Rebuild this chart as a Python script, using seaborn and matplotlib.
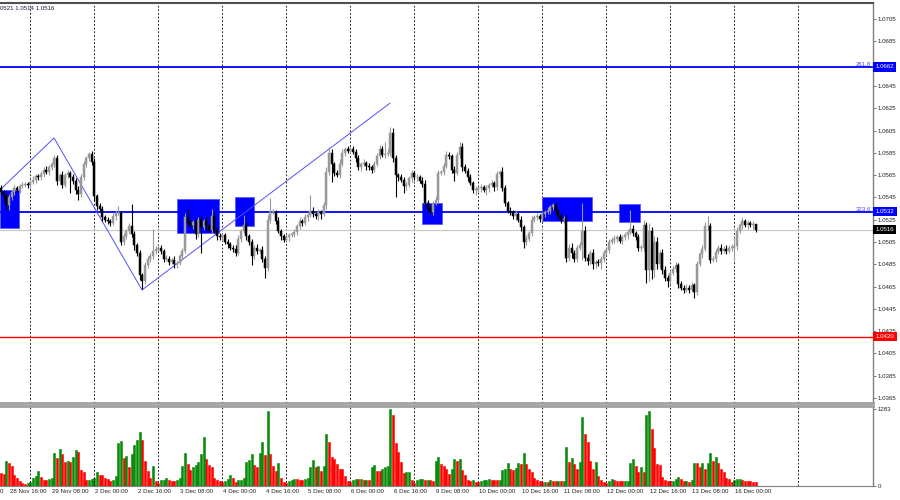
import numpy as np
import pandas as pd
import seaborn as sns
import matplotlib.pyplot as plt
from matplotlib.patches import Rectangle

# EURUSD H1, 28 Nov 13:00 -> 16 Dec 08:00 (weekends skipped)
# prices as pips above 1.0000, one value per hourly bar
first_open = 553
close_pips = [
    550, 546, 538, 545, 550, 553, 552, 555, 556, 557, 556,
    559, 561, 564, 563, 566, 570, 568, 572, 575, 580,
    560, 565, 556, 565, 567, 563, 560, 552, 548, 563,
    575, 580, 584, 577, 546, 537, 535, 527, 525, 524,
    522, 528, 531, 531, 505, 510, 515, 519, 512, 502,
    495, 475, 470, 484, 490, 492, 497, 499, 500, 497,
    490, 490, 487, 489, 485, 486, 492, 497, 527, 522,
    520, 523, 512, 525, 518, 524, 519, 516, 528, 516,
    510, 509, 511, 505, 503, 500, 499, 495, 508, 515,
    520, 510, 505, 492, 500, 497, 498, 490, 482, 525,
    532, 532, 524, 515, 510, 507, 509, 511, 512, 514,
    519, 524, 522, 527, 529, 533, 530, 528, 532, 530,
    538, 568, 585, 575, 567, 565, 575, 585, 588, 587,
    588, 586, 580, 572, 575, 576, 573, 572, 570, 575,
    582, 588, 583, 584, 585, 603, 580, 565, 563, 561,
    555, 556, 562, 567, 563, 563, 560, 557, 540, 535,
    532, 540, 543, 567, 568, 573, 583, 582, 570, 567,
    583, 590, 572, 569, 563, 558, 552, 552, 553, 554,
    552, 553, 556, 558, 554, 566, 568, 553, 540, 533,
    532, 528, 530, 525, 518, 505, 508, 513, 525, 527,
    528, 526, 530, 532, 533, 536, 538, 533, 528, 525,
    526, 491, 500, 495, 490, 500, 502, 515, 491, 488,
    495, 485, 487, 486, 490, 495, 498, 505, 507, 508,
    509, 506, 509, 511, 514, 517, 513, 509, 500, 500,
    520, 480, 515, 480, 505, 485, 495, 480, 473, 470,
    477, 481, 484, 467, 464, 462, 464, 462, 466, 460,
    485, 494, 499, 519, 519, 489, 490, 496, 500, 497,
    499, 497, 500, 500, 501, 515, 520, 524, 520, 522,
    520, 521, 516,
]
# wick lengths above / below the body, pips
wick_up = [
    3, 2, 2, 3, 2, 3, 2, 2, 3, 2, 2,
    2, 3, 2, 2, 3, 2, 3, 2, 2, 3,
    3, 2, 4, 2, 3, 2, 3, 2, 3, 3,
    3, 2, 2, 3, 3, 2, 3, 2, 2, 2,
    2, 3, 2, 6, 2, 3, 2, 3, 20, 3,
    2, 3, 2, 3, 2, 3, 20, 2, 3, 2,
    2, 3, 2, 2, 3, 2, 2, 3, 4, 8,
    3, 2, 3, 2, 3, 2, 3, 2, 7, 3,
    2, 3, 2, 2, 3, 2, 2, 3, 3, 2,
    9, 3, 2, 3, 2, 3, 2, 3, 2, 4,
    12, 3, 2, 3, 2, 2, 3, 2, 2, 3,
    2, 3, 2, 3, 2, 14, 3, 2, 3, 2,
    3, 4, 5, 3, 2, 3, 4, 3, 2, 3,
    2, 3, 2, 3, 2, 3, 2, 3, 2, 3,
    3, 4, 3, 11, 3, 5, 4, 3, 2, 3,
    2, 3, 2, 3, 2, 3, 2, 3, 4, 3,
    3, 2, 3, 3, 2, 3, 4, 3, 2, 3,
    3, 5, 4, 3, 2, 3, 2, 3, 2, 3,
    2, 3, 2, 3, 2, 3, 2, 4, 3, 2,
    3, 2, 3, 2, 3, 2, 3, 2, 3, 2,
    3, 2, 3, 2, 3, 2, 2, 3, 2, 3,
    2, 4, 3, 4, 3, 2, 3, 25, 4, 3,
    3, 4, 2, 3, 2, 3, 2, 3, 2, 3,
    2, 3, 2, 3, 2, 17, 3, 2, 3, 2,
    5, 3, 7, 3, 5, 4, 3, 4, 3, 2,
    3, 2, 3, 2, 3, 2, 3, 2, 3, 2,
    3, 2, 3, 4, 9, 3, 2, 3, 2, 3,
    2, 3, 2, 3, 8, 3, 2, 3, 2, 3,
    2, 3, 0,
]
wick_dn = [
    2, 3, 4, 4, 2, 3, 2, 3, 2, 2, 3,
    3, 2, 3, 2, 2, 3, 2, 3, 2, 3,
    4, 3, 3, 2, 3, 14, 3, 4, 5, 3,
    2, 3, 2, 3, 4, 3, 2, 3, 2, 3,
    3, 2, 3, 2, 3, 3, 2, 3, 3, 4,
    3, 4, 7, 3, 2, 3, 2, 3, 2, 3,
    3, 2, 3, 2, 3, 3, 2, 3, 2, 3,
    2, 3, 4, 3, 23, 2, 3, 2, 3, 3,
    3, 2, 3, 2, 3, 2, 3, 3, 2, 3,
    2, 3, 3, 8, 2, 3, 2, 3, 9, 3,
    3, 2, 3, 2, 3, 2, 2, 3, 2, 3,
    3, 2, 3, 2, 3, 2, 3, 2, 3, 4,
    2, 3, 3, 16, 3, 2, 3, 2, 3, 2,
    3, 2, 3, 2, 3, 2, 3, 2, 3, 2,
    2, 3, 2, 3, 2, 3, 3, 20, 3, 2,
    6, 3, 2, 3, 2, 3, 2, 3, 3, 2,
    2, 3, 2, 3, 2, 3, 2, 3, 3, 7,
    2, 3, 3, 2, 3, 2, 3, 5, 2, 3,
    2, 5, 3, 2, 3, 2, 3, 2, 3, 2,
    3, 2, 3, 2, 3, 5, 3, 2, 3, 2,
    2, 3, 2, 3, 2, 3, 2, 3, 2, 3,
    3, 4, 3, 4, 3, 3, 2, 13, 3, 4,
    3, 4, 3, 3, 5, 3, 2, 3, 2, 3,
    3, 2, 3, 2, 3, 2, 3, 2, 3, 3,
    3, 12, 10, 8, 6, 4, 3, 4, 3, 5,
    3, 2, 3, 3, 2, 3, 2, 3, 2, 5,
    3, 2, 3, 2, 3, 3, 2, 3, 2, 3,
    2, 3, 2, 3, 12, 3, 2, 3, 2, 3,
    2, 3, 2,
]
volume = [
    215, 205, 420, 380, 340, 190, 130, 80, 45, 35, 55,
    70, 130, 170, 255, 150, 105, 100, 120, 125, 550,
    465, 620, 525, 405, 410, 395, 480, 600, 565, 265,
    235, 95, 105, 120, 130, 235, 185, 175, 130, 115,
    85, 105, 165, 715, 745, 460, 505, 310, 525, 675,
    770, 895, 760, 420, 255, 140, 330, 85, 45, 95,
    105, 140, 95, 85, 80, 105, 125, 330, 555, 365,
    265, 320, 355, 405, 525, 815, 445, 355, 310, 130,
    100, 75, 60, 85, 115, 175, 130, 70, 105, 108,
    130, 405, 435, 535, 355, 310, 545, 725, 520, 1245,
    535, 340, 255, 375, 130, 60, 55, 85, 105, 120,
    118, 100, 98, 120, 125, 310, 435, 310, 325, 255,
    325, 860, 740, 490, 450, 365, 280, 275, 170, 75,
    70, 100, 120, 115, 118, 105, 107, 95, 320, 350,
    255, 250, 280, 320, 340, 1283, 1180, 715, 565, 395,
    210, 225, 228, 105, 55, 95, 115, 117, 95, 100,
    95, 85, 410, 480, 365, 340, 280, 195, 290, 450,
    420, 450, 265, 185, 95, 75, 105, 70, 62, 85,
    95, 105, 118, 105, 100, 98, 100, 270, 280, 390,
    280, 265, 300, 375, 370, 545, 365, 280, 240, 140,
    95, 85, 62, 73, 68, 105, 85, 75, 85, 80,
    90, 650, 405, 465, 365, 280, 405, 1155, 860, 740,
    420, 280, 395, 170, 105, 70, 55, 85, 112, 95,
    85, 80, 75, 85, 90, 385, 450, 340, 240, 320,
    240, 1180, 1255, 955, 635, 365, 355, 150, 95, 85,
    75, 85, 112, 150, 112, 75, 85, 73, 105, 385,
    380, 310, 385, 280, 385, 550, 410, 480, 375, 280,
    225, 130, 112, 73, 100, 112, 118, 95, 85, 80,
    78, 70, 62,
]

time_labels = ['28 Nov 16:00', '29 Nov 08:00', '2 Dec 00:00', '2 Dec 16:00',
               '3 Dec 08:00', '4 Dec 00:00', '4 Dec 16:00', '5 Dec 08:00', '6 Dec 00:00',
               '6 Dec 16:00', '9 Dec 08:00', '10 Dec 00:00', '10 Dec 16:00', '11 Dec 08:00',
               '12 Dec 00:00', '12 Dec 16:00', '13 Dec 08:00', '16 Dec 00:00']
label_hours = list(range(-8, 265, 16))   # bar index, 0 = 29 Nov 00:00
day_hours = list(range(0, 289, 24))

price_ticks = [1.0365 + 0.002 * k for k in range(18)]
fib_levels = [(1.0662, '261.8'), (1.0532, '323.6')]
support = 1.0420
bid = 1.0516

# blue zones: (from bar, to bar, low, high)
zones = [(-11.4, -4.2, 1.05175, 1.05516),
         (55.0, 70.8, 1.05130, 1.05435),
         (76.8, 83.9, 1.05190, 1.05450),
         (146.9, 154.4, 1.05210, 1.05400),
         (191.9, 210.6, 1.05240, 1.05450),
         (220.7, 228.6, 1.05230, 1.05390)]
zigzag_bar = [-11.4, 8.9, 41.9, 134.9]
zigzag_price = [1.05516, 1.05983, 1.04619, 1.06296]

bars = pd.DataFrame({'t': np.arange(len(close_pips)) - 11,
                     'close': 1 + np.array(close_pips) / 1e4})
bars['open'] = bars['close'].shift(1).fillna(1 + first_open / 1e4)
bars['high'] = bars[['open', 'close']].max(axis=1) + np.array(wick_up) / 1e4
bars['low'] = bars[['open', 'close']].min(axis=1) - np.array(wick_dn) / 1e4
bars['volume'] = volume
bars['dir'] = np.where(bars['volume'].diff() > 0, 'up', 'down')

sns.set_style('white')
plt.rcParams['font.family'] = ['Liberation Sans', 'DejaVu Sans']
FS = 4.4

fig = plt.figure(figsize=(9, 5), dpi=100)
ax = fig.add_axes([0, 97 / 500, 873 / 900, 400 / 500])
axv = fig.add_axes([0, 14 / 500, 873 / 900, 80 / 500])
xlim = (-11.36, 316.0)

# zones and lines
for t0, t1, lo, hi in zones:
    ax.add_patch(Rectangle((t0, lo), t1 - t0, hi - lo, fc='#0000ff', ec='#5a5aff', lw=0.6, zorder=2))
for lvl, txt in fib_levels:
    ax.axhline(lvl, color='#0000ff', lw=1.3, zorder=2.5)
    ax.text(0.998, lvl + 0.00003, txt, transform=ax.get_yaxis_transform(), ha='right', va='bottom',
            fontsize=FS, color='#4a4aff')
ax.axhline(support, color='#ff0000', lw=1.0, zorder=2.5)
ax.axhline(bid, color='#c8c8c8', lw=0.8, zorder=1.5)
ax.plot(zigzag_bar, zigzag_price, color='#5050ff', lw=0.7, zorder=2.6)

# candles
bull = bars['close'] >= bars['open']
for mask, col in [(bull, '#999999'), (~bull, '#000000')]:
    d = bars[mask]
    ax.vlines(d['t'], d['low'], d['high'], color=col, lw=0.8, zorder=3)
    ax.bar(d['t'], (d['close'] - d['open']).abs().clip(lower=0.00004),
           bottom=d[['open', 'close']].min(axis=1), width=0.72, color=col,
           edgecolor=col, lw=0.35, zorder=3)

# volumes
sns.barplot(data=bars, x='t', y='volume', hue='dir', palette={'up': '#078a07', 'down': '#ff0000'},
            native_scale=True, width=0.72, dodge=False, errorbar=None, legend=False,
            saturation=1, ax=axv)
for p in axv.patches:
    p.set_edgecolor(p.get_facecolor())
    p.set_linewidth(0.4)

for a in (ax, axv):
    for h in day_hours:
        a.axvline(h, color='black', lw=0.6, ls=(0, (2.2, 2.2)), zorder=1)
    a.set_xlabel('')
    a.set_ylabel('')
    a.yaxis.tick_right()
    a.spines['left'].set_visible(False)
    a.spines['right'].set_color('#808080')
    a.spines['right'].set_linewidth(1)
    a.tick_params(axis='y', length=2, width=0.5, pad=1.5, labelsize=FS, color='#404040', labelcolor='#222222')

ax.set_ylim(1.03605, 1.07194)
ax.set_yticks(price_ticks)
# the 1.0665 label sits under the 1.0662 tag
ax.set_yticklabels(['' if abs(p - 1.0665) < 1e-6 else f'{p:.4f}' for p in price_ticks])
ax.set_xticks([])
ax.spines['top'].set_color('#505050')
ax.spines['top'].set_linewidth(1.5)
ax.spines['bottom'].set_color('#a0a0a0')
ax.spines['bottom'].set_linewidth(2)

axv.set_ylim(0, 1333)
axv.set_yticks([0, 1283])
axv.set_yticklabels(['0', '1283'])
axv.spines['top'].set_color('#a0a0a0')
axv.spines['top'].set_linewidth(2)
axv.spines['bottom'].set_color('#808080')
axv.set_xticks(label_hours)
axv.set_xticklabels([])
axv.tick_params(axis='x', length=2, width=0.5, color='#404040')
for h, lab in zip(label_hours, time_labels):
    axv.text(h + 0.3, -0.04, lab, transform=axv.get_xaxis_transform(), ha='left', va='top',
             fontsize=FS, color='#222222', clip_on=False)
# tail of the previous label, cut by the left edge
axv.text(0.0, -0.04, '0', transform=axv.transAxes, ha='left', va='top', fontsize=FS, color='#222222')

# set_xticks widens the view, so fix the limits last
ax.set_xlim(*xlim)
axv.set_xlim(*xlim)

# price tags on the scale
tags = [(1.0662, '1.0662', '#0000ff'), (1.0532, '1.0532', '#0000ff'),
        (bid, '1.0516', '#000000'), (support, '1.0420', '#ff0000')]
for lvl, txt, col in tags:
    ax.text(1.003, lvl, txt, transform=ax.get_yaxis_transform(), ha='left', va='center', color='white',
            fontsize=FS, zorder=6, clip_on=False,
            bbox=dict(boxstyle='square,pad=0.35', fc=col, ec='none'))

ax.text(0.0, 0.993, '0521 1.0514 1.0516', transform=ax.transAxes, ha='left', va='top',
        fontsize=FS, color='#1a1a40')

fig.savefig('out.png', dpi=100, facecolor='white')
